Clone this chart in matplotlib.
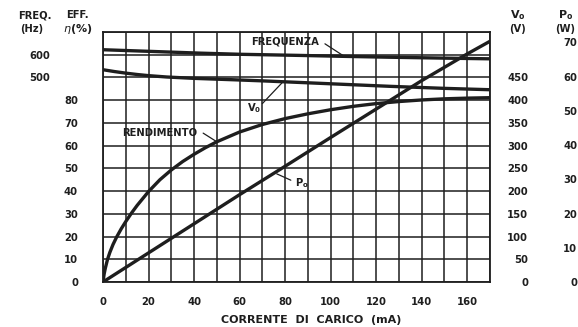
import numpy as np
import matplotlib
matplotlib.use("Agg")
import matplotlib.pyplot as plt

# valori
corrente_freq = [0, 20, 42.6, 60, 86.4, 105, 126, 150, 170]
frequenza = [622, 615, 607, 602, 597, 593, 589, 585, 582]

corrente_vo = [0, 5, 10, 15, 20, 28, 40, 57, 70, 86.5, 105, 126, 150, 170]
tensione_vo = [467, 463, 459.5, 456.5, 454, 451, 448, 445, 442.5, 439, 435, 430.5, 426, 423]

corrente_eff = [0, 0.5, 1, 2, 3, 4.4, 6, 8, 10, 12.5, 15, 20, 25, 30, 35, 40, 45, 50,
                60, 70, 80, 90, 100, 110, 120, 130, 140, 150, 160, 170]
rendimento = [0, 3.5, 6, 10, 13, 16.5, 19.8, 23.4, 26.6, 30.3, 33.7, 39.8, 45, 49.3,
              53, 56.2, 59.1, 61.7, 66, 69.3, 71.9, 74, 75.8, 77.3, 78.5, 79.4, 80.1,
              80.6, 80.9, 81.1]

corrente_po = [0, 20, 40, 60, 80, 100, 120, 140, 160, 170]
potenza_po = [0, 8.5, 17, 25.5, 33.8, 42.2, 50.5, 58.8, 66.6, 70.3]

x_ticks = [0, 20, 40, 60, 80, 100, 120, 140, 160]
eff_ticks = [0, 10, 20, 30, 40, 50, 60, 70, 80]
freq_ticks = [500, 600]
vo_ticks = [0, 50, 100, 150, 200, 250, 300, 350, 400, 450]
po_ticks = [0, 10, 20, 30, 40, 50, 60, 70]

W, H = 578, 327
INK = "#1e1e1e"
FONT = dict(family="DejaVu Sans", weight="bold", size=7.2, color=INK)
PT = 72 / 100  # pixel -> punti

fig = plt.figure(figsize=(W / 100, H / 100), dpi=100)
ax = fig.add_axes([103 / W, (H - 282) / H, (490 - 103) / W, (282 - 32) / H])

ax.set_xlim(0, 170)
ax.set_ylim(0, 110)
ax.set_xticks(np.arange(0, 171, 10))
ax.set_xticklabels([str(v) if v in x_ticks else "" for v in range(0, 171, 10)], **FONT)
ax.set_yticks(np.arange(0, 111, 10))
ax.set_yticklabels([str(v) if v in eff_ticks else "" for v in range(0, 111, 10)], **FONT)
ax.tick_params(length=0, pad=15 * PT, axis="x")
ax.tick_params(length=0, pad=25 * PT, axis="y")
ax.grid(True, color=INK, linewidth=1.1)
for s in ax.spines.values():
    s.set_color(INK)
    s.set_linewidth(1.3)

ax.plot(corrente_eff, rendimento, color=INK, linewidth=2.4, solid_joinstyle="round")

# frequenza (scala a sinistra)
axf = ax.twinx()
axf.set_ylim(-400, 700)
axf.yaxis.tick_left()
axf.set_yticks(freq_ticks)
axf.set_yticklabels([str(v) for v in freq_ticks], **FONT)
axf.tick_params(length=0, pad=53 * PT)
for s in axf.spines.values():
    s.set_visible(False)
axf.plot(corrente_freq, frequenza, color=INK, linewidth=2.4, solid_joinstyle="round")

# Vo (scala a destra)
axv = ax.twinx()
axv.set_ylim(0, 550)
axv.set_yticks(vo_ticks)
axv.set_yticklabels([str(v) for v in vo_ticks], ha="right", **FONT)
axv.tick_params(length=0, pad=38 * PT)
for s in axv.spines.values():
    s.set_visible(False)
axv.plot(corrente_vo, tensione_vo, color=INK, linewidth=2.4, solid_joinstyle="round")

# Po (seconda scala a destra)
axp = ax.twinx()
axp.set_ylim(0, 73)
axp.set_yticks(po_ticks)
axp.set_yticklabels([str(v) for v in po_ticks], ha="right", **FONT)
axp.tick_params(length=0, pad=87 * PT)
for s in axp.spines.values():
    s.set_visible(False)
axp.plot(corrente_po, potenza_po, color=INK, linewidth=2.4, solid_joinstyle="round")

# etichette delle curve
lead = dict(arrowstyle="-", color=INK, linewidth=0.9, shrinkA=0, shrinkB=0)
ax.text(80, 105.6, "FREQUENZA", ha="center", va="center", **FONT)
ax.annotate("", xy=(105.5, 99.6), xytext=(97.5, 104.8), arrowprops=lead)
ax.text(66.3, 76.5, r"V$_\mathbf{0}$", ha="center", va="center", **FONT)
ax.annotate("", xy=(78.6, 87.6), xytext=(70, 78.5), arrowprops=lead)
ax.text(25, 65.5, "RENDIMENTO", ha="center", va="center", **FONT)
ax.annotate("", xy=(50, 61.7), xytext=(44, 65.5), arrowprops=lead)
ax.text(87.5, 43.5, r"P$_\mathbf{o}$", ha="center", va="center", **FONT)
ax.annotate("", xy=(76.3, 47.6), xytext=(82.5, 44.8), arrowprops=lead)

# intestazioni degli assi
def px(x, y, s, ha="center", **kw):
    fig.text(x / W, 1 - y / H, s, ha=ha, va="center", **{**FONT, **kw})

px(35, 15, "FREQ.")
px(77, 15, "EFF.")
px(32, 29, "(Hz)")
px(78, 29, r"$\eta$(%)", size=8)
px(518, 15, r"V$_\mathbf{o}$", size=8)
px(518, 29, "(V)")
px(566, 15, r"P$_\mathbf{o}$", size=8)
px(565, 29, "(W)")
px(311, 320, "CORRENTE  DI  CARICO  (mA)", size=8)

fig.savefig("out.png", dpi=100, facecolor="white")
